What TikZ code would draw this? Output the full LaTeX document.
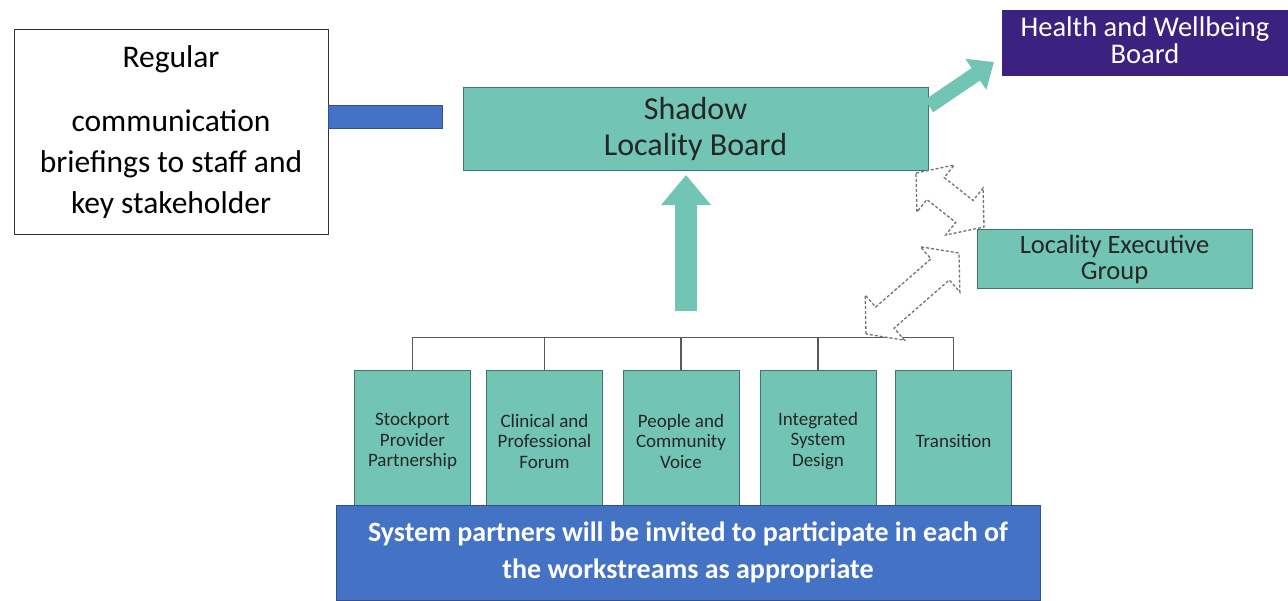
\documentclass[tikz,border=0pt]{standalone}
\usepackage{fontspec}
\setmainfont{Carlito}
\usetikzlibrary{arrows.meta,calc}
\definecolor{boxteal}{RGB}{114,196,181}
\definecolor{tealedge}{RGB}{62,118,108}
\definecolor{barblue}{RGB}{68,114,196}
\definecolor{bluedge}{RGB}{47,82,143}
\definecolor{hwbpurple}{RGB}{60,34,128}

% hollow two-way block arrow between two points
\newcommand{\twowayarrow}[2]{%
  \draw[hollowarrow] (#1)
    -- ($(#1)!25pt!(#2)!30pt!90:(#2)$)
    -- ($(#1)!25pt!(#2)!14pt!90:(#2)$)
    -- ($(#2)!25pt!(#1)!14pt!-90:(#1)$)
    -- ($(#2)!25pt!(#1)!30pt!-90:(#1)$)
    -- (#2)
    -- ($(#2)!25pt!(#1)!30pt!90:(#1)$)
    -- ($(#2)!25pt!(#1)!14pt!90:(#1)$)
    -- ($(#1)!25pt!(#2)!14pt!-90:(#2)$)
    -- ($(#1)!25pt!(#2)!30pt!-90:(#2)$)
    -- cycle;}

\begin{document}
\begin{tikzpicture}[x=1pt,y=-1pt,
  tealbox/.style={draw=tealedge,fill=boxteal,line width=0.8pt,inner sep=0pt,align=center,text=black!85},
  streambox/.style={tealbox,minimum width=116pt,minimum height=142pt,font=\fontsize{19}{20.5}\selectfont},
  bracket/.style={draw=black!65,line width=1.1pt},
  hollowarrow/.style={draw=black!55,fill=white,line width=1.3pt,dash pattern=on 3pt off 2pt},
  tealarrow/.style={draw=boxteal,line width=#1}]
\useasboundingbox (0,0) rectangle (1288,600);

% boxes
\node (comm) at (171,132)[draw=black!80,line width=0.9pt,fill=white,minimum width=314pt,minimum height=205pt,
  inner sep=0pt,align=center,font=\fontsize{31.5}{41}\selectfont]
  {Regular\\[23pt]communication\\briefings to staff and\\key stakeholder};
\node (shadow) at (695.5,128.5)[tealbox,minimum width=465pt,minimum height=83pt,font=\fontsize{32}{36}\selectfont]
  {Shadow\\Locality Board};
\node (hwb) at (1145,42.5)[fill=hwbpurple,text=white,minimum width=286pt,minimum height=66pt,inner sep=0pt,
  align=center,font=\fontsize{28.5}{27}\selectfont] {Health and Wellbeing\\Board\vphantom{g}};
\node (leg) at (1114.5,259)[tealbox,minimum width=275pt,minimum height=59pt,font=\fontsize{26.5}{26}\selectfont]
  {Locality Executive\\Group};

% workstreams
\node (spp) at (412.5,441)[streambox] {Stockport\\Provider\\Partnership};
\node (cpf) at (544.5,441)[streambox] {Clinical and\\Professional\\Forum};
\node (pcv) at (681,441)[streambox] {People and\\Community\\Voice};
\node (isd) at (818,441)[streambox] {Integrated\\System\\Design};
\node (tra) at (953.5,441)[streambox] {Transition};

\node (partners) at (688,552.5)[fill=barblue,draw=bluedge,line width=0.8pt,text=white,minimum width=704pt,
  minimum height=95pt,inner sep=0pt,align=center,font=\bfseries\fontsize{28}{37}\selectfont]
  {System partners will be invited to participate in each of\\the workstreams as appropriate};

% rail over the workstreams
\draw[bracket] (spp.north) -- ++(0,-32) -| (tra.north);
\foreach \w in {cpf,pcv,isd}
  \draw[bracket] (\w.north) -- ++(0,-32);

% arrows
\coordinate (hub) at (686,311);
\coordinate (uptip) at (686,175);
\draw[tealarrow=22pt,-{Triangle[width=48pt,length=30pt]}] (hub) -- (uptip);

\coordinate (hwbtail) at (929,106);
\coordinate (hwbtip) at (994,62);
\draw[tealarrow=15pt,-{Triangle[width=36pt,length=22pt]}] (hwbtail) -- (hwbtip);

\draw[fill=barblue,draw=bluedge,line width=0.8pt] ($(comm.east)+(0,-27)$) rectangle ++(114,23);

\coordinate (sh1) at (916,173);
\coordinate (lg1) at (984,227);
\coordinate (rl1) at (866,334);
\coordinate (lg2) at (959,253);
\twowayarrow{sh1}{lg1}
\twowayarrow{rl1}{lg2}
\end{tikzpicture}
\end{document}
